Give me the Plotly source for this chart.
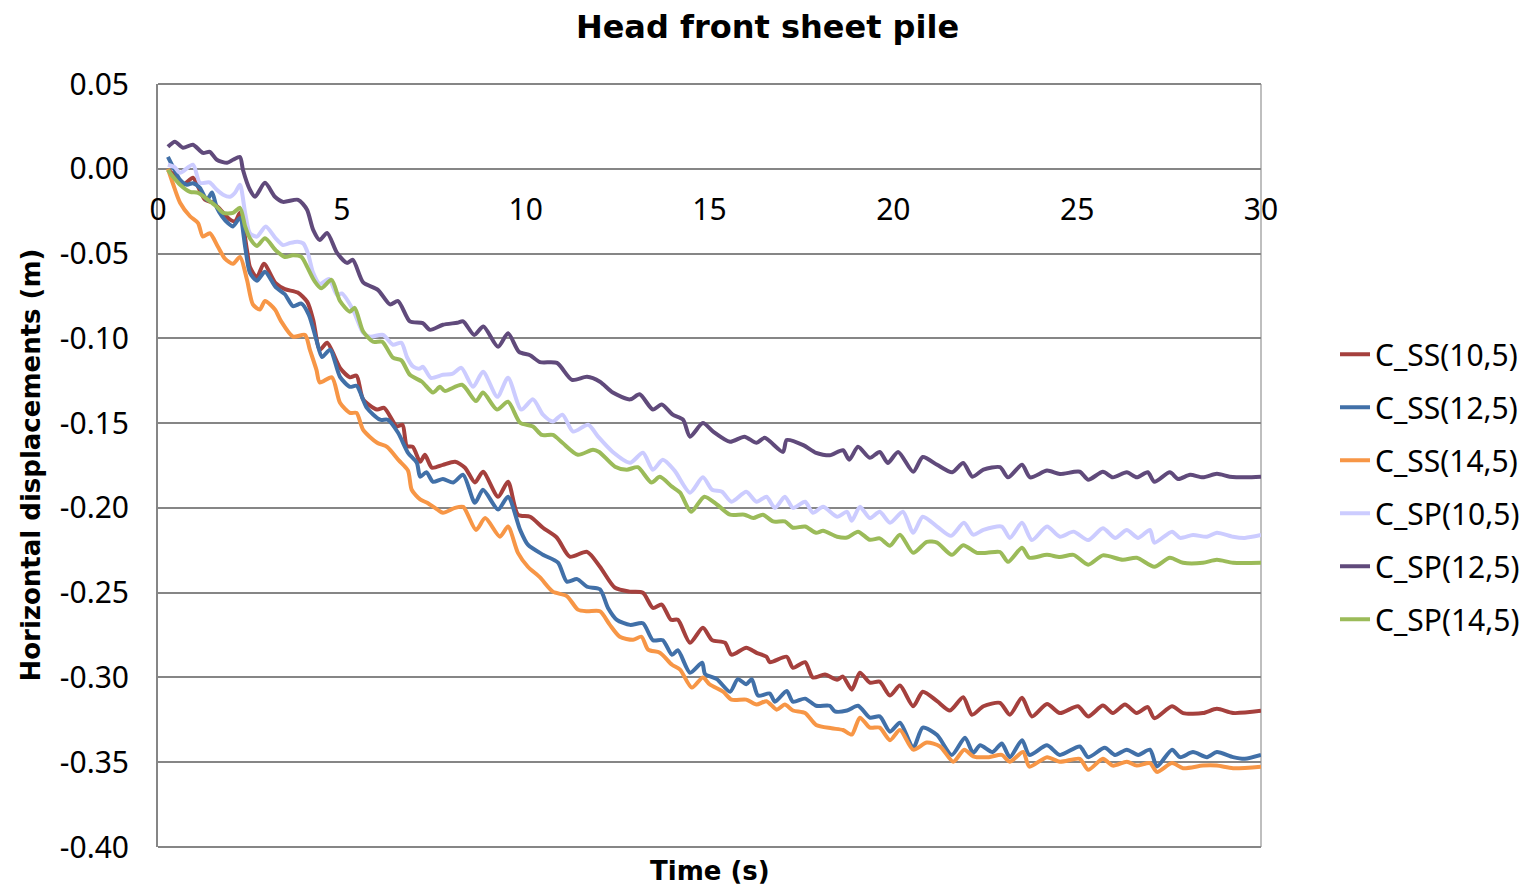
import plotly.graph_objects as go

# ---------------- data ----------------
ss10_t = [0.27, 0.52, 0.68, 0.95, 1.09, 1.28, 1.5, 1.69, 1.96, 2.1, 2.23, 2.42, 2.5, 2.69, 2.88, 3.2, 3.45, 3.8, 4.06, 4.22,
          4.4, 4.6, 4.95, 5.22, 5.4, 5.58, 5.96, 6.15, 6.5, 6.65, 6.77, 6.93, 7.13, 7.26, 7.45, 7.75, 8.08, 8.35, 8.62, 8.84,
          9.25, 9.52, 9.79, 10.12, 10.47, 10.85, 11.2, 11.67, 12.02, 12.43, 12.84, 13.19, 13.46, 13.7, 13.95, 14.14, 14.47, 14.82, 15.07, 15.42,
          15.6, 16.0, 16.28, 16.55, 16.64, 17.1, 17.27, 17.6, 17.81, 18.14, 18.47, 18.63, 18.87, 19.09, 19.36, 19.63, 19.91, 20.18, 20.54, 20.8,
          21.19, 21.54, 21.9, 22.14, 22.45, 22.9, 23.17, 23.5, 23.77, 24.18, 24.53, 25.02, 25.3, 25.7, 25.97, 26.3, 26.62, 26.92, 27.1, 27.58,
          27.88, 28.42, 28.8, 29.24, 30.0]
ss10_v = [-0.0006, -0.0053, -0.0094, -0.0053, -0.0106, -0.0183, -0.020, -0.024, -0.030, -0.031, -0.026, -0.048, -0.058, -0.064, -0.056, -0.0675, -0.071, -0.073, -0.0785, -0.089,
          -0.1067, -0.1026, -0.1174, -0.123, -0.122, -0.136, -0.142, -0.141, -0.152, -0.151, -0.1636, -0.164, -0.1728, -0.1687, -0.1763, -0.1746, -0.1728, -0.1763, -0.185, -0.1787,
          -0.1934, -0.1846, -0.204, -0.2052, -0.2117, -0.2176, -0.2288, -0.2259, -0.2347, -0.2471, -0.2494, -0.250, -0.259, -0.257, -0.266, -0.266, -0.2795, -0.2707, -0.278, -0.2795,
          -0.2866, -0.2825, -0.2855, -0.2878, -0.291, -0.2878, -0.2943, -0.291, -0.300, -0.2983, -0.3013, -0.2995, -0.3072, -0.2972, -0.303, -0.3025, -0.3107, -0.3048, -0.317, -0.3084,
          -0.314, -0.3195, -0.3117, -0.322, -0.317, -0.315, -0.322, -0.312, -0.323, -0.3156, -0.321, -0.317, -0.323, -0.3166, -0.321, -0.316, -0.321, -0.3175, -0.324, -0.317,
          -0.321, -0.321, -0.3185, -0.321, -0.3197]

ss12_t = [0.27, 0.41, 0.6, 0.79, 0.95, 1.14, 1.33, 1.47, 1.6, 1.74, 1.9, 2.04, 2.23, 2.37, 2.5, 2.69, 2.91, 3.2, 3.45, 3.67,
          3.9, 4.1, 4.31, 4.46, 4.68, 4.95, 5.22, 5.4, 5.68, 6.04, 6.25, 6.53, 6.8, 7.04, 7.13, 7.3, 7.48, 7.75, 8.03, 8.3,
          8.62, 8.84, 9.25, 9.52, 9.85, 10.06, 10.47, 10.88, 11.12, 11.4, 11.67, 12.02, 12.24, 12.48, 12.84, 13.19, 13.46, 13.73, 13.98, 14.14,
          14.47, 14.8, 14.88, 15.2, 15.56, 15.77, 16.0, 16.15, 16.32, 16.64, 16.78, 17.1, 17.27, 17.6, 17.9, 18.27, 18.41, 18.74, 19.04, 19.36,
          19.63, 19.91, 20.18, 20.54, 20.8, 21.19, 21.59, 21.95, 22.17, 22.36, 22.7, 22.95, 23.17, 23.5, 23.7, 24.18, 24.53, 25.07, 25.3, 25.75,
          26.03, 26.35, 26.66, 26.98, 27.17, 27.58, 27.8, 28.15, 28.53, 28.8, 29.24, 29.56, 30.0]
ss12_v = [0.007, 0.001, -0.0065, -0.0094, -0.0085, -0.0112, -0.0183, -0.014, -0.023, -0.028, -0.032, -0.034, -0.029, -0.046, -0.0614, -0.066, -0.0607, -0.0698, -0.074, -0.081,
          -0.0795, -0.086, -0.101, -0.111, -0.1067, -0.1227, -0.1286, -0.128, -0.141, -0.148, -0.148, -0.1557, -0.1675, -0.1734, -0.1816, -0.179, -0.1846, -0.183, -0.185, -0.1805,
          -0.197, -0.1893, -0.201, -0.1934, -0.213, -0.2217, -0.2276, -0.2323, -0.2435, -0.242, -0.2465, -0.248, -0.259, -0.266, -0.269, -0.268, -0.278, -0.278, -0.2866, -0.284,
          -0.2972, -0.2913, -0.298, -0.301, -0.3084, -0.301, -0.304, -0.301, -0.3107, -0.3095, -0.3143, -0.308, -0.3143, -0.3125, -0.3167, -0.3167, -0.320, -0.3195, -0.3167, -0.3237,
          -0.323, -0.332, -0.3267, -0.3415, -0.3296, -0.334, -0.3457, -0.3355, -0.3445, -0.340, -0.344, -0.339, -0.347, -0.337, -0.3457, -0.340, -0.3457, -0.3407, -0.347, -0.3415,
          -0.3457, -0.3426, -0.3457, -0.3426, -0.3525, -0.3426, -0.347, -0.344, -0.347, -0.344, -0.347, -0.348, -0.3457]

ss14_t = [0.27, 0.41, 0.6, 0.87, 1.09, 1.22, 1.41, 1.63, 1.82, 2.04, 2.23, 2.42, 2.58, 2.77, 2.91, 3.18, 3.35, 3.67, 4.0, 4.13,
          4.31, 4.4, 4.73, 4.95, 5.22, 5.4, 5.58, 5.96, 6.23, 6.55, 6.8, 6.9, 7.13, 7.32, 7.6, 7.75, 8.08, 8.3, 8.65, 8.9,
          9.3, 9.52, 9.79, 10.06, 10.39, 10.74, 11.12, 11.42, 11.67, 12.02, 12.29, 12.56, 12.92, 13.15, 13.33, 13.65, 13.98, 14.2, 14.52, 14.82,
          15.0, 15.37, 15.6, 16.0, 16.28, 16.55, 16.83, 17.05, 17.27, 17.6, 17.9, 18.32, 18.63, 18.87, 19.09, 19.36, 19.63, 19.91, 20.18, 20.54,
          20.91, 21.27, 21.63, 21.93, 22.17, 22.6, 22.95, 23.17, 23.53, 23.7, 24.18, 24.53, 25.07, 25.3, 25.7, 25.97, 26.35, 26.62, 26.98, 27.17,
          27.58, 27.88, 28.42, 28.8, 29.24, 30.0]
ss14_v = [0.0, -0.009, -0.020, -0.028, -0.032, -0.040, -0.038, -0.046, -0.053, -0.056, -0.052, -0.0655, -0.080, -0.083, -0.078, -0.083, -0.090, -0.099, -0.098, -0.1067,
          -0.1186, -0.126, -0.123, -0.138, -0.144, -0.144, -0.154, -0.1616, -0.164, -0.172, -0.178, -0.1893, -0.195, -0.197, -0.201, -0.2029, -0.200, -0.1994, -0.213, -0.206,
          -0.217, -0.211, -0.2265, -0.2347, -0.241, -0.2494, -0.252, -0.260, -0.261, -0.261, -0.269, -0.276, -0.2778, -0.276, -0.2836, -0.2854, -0.2925, -0.2954, -0.306, -0.300,
          -0.304, -0.3084, -0.3131, -0.3131, -0.316, -0.314, -0.319, -0.316, -0.3195, -0.321, -0.328, -0.330, -0.331, -0.3337, -0.3237, -0.3296, -0.3296, -0.337, -0.331, -0.3426,
          -0.3384, -0.3407, -0.3497, -0.3426, -0.3465, -0.347, -0.3457, -0.3497, -0.344, -0.3526, -0.347, -0.3497, -0.348, -0.3545, -0.348, -0.352, -0.3497, -0.352, -0.3505, -0.3557,
          -0.3505, -0.3535, -0.352, -0.352, -0.3535, -0.3526]

sp10_t = [0.27, 0.45, 0.6, 0.95, 1.14, 1.4, 1.6, 1.77, 1.96, 2.1, 2.23, 2.37, 2.5, 2.69, 2.93, 3.2, 3.4, 3.6, 3.8, 3.95,
          4.08, 4.22, 4.4, 4.65, 4.87, 5.0, 5.3, 5.58, 5.77, 6.12, 6.39, 6.62, 6.77, 6.93, 7.1, 7.21, 7.42, 7.75, 8.0, 8.25,
          8.57, 8.84, 9.23, 9.52, 9.88, 10.2, 10.47, 10.74, 11.0, 11.29, 11.7, 11.97, 12.37, 12.84, 13.19, 13.46, 13.73, 14.05, 14.47, 14.82,
          15.07, 15.34, 15.6, 16.0, 16.28, 16.55, 16.78, 17.05, 17.27, 17.6, 17.81, 18.09, 18.47, 18.74, 18.87, 19.09, 19.36, 19.63, 19.91, 20.26,
          20.54, 20.8, 21.19, 21.57, 21.92, 22.17, 22.45, 22.95, 23.17, 23.5, 23.77, 24.18, 24.53, 24.9, 25.3, 25.7, 26.03, 26.35, 26.66, 26.98,
          27.1, 27.58, 27.8, 28.15, 28.53, 28.8, 29.24, 29.56, 30.0]
sp10_v = [0.0024, 0.001, -0.0024, 0.0024, -0.0083, -0.008, -0.0124, -0.0153, -0.0165, -0.014, -0.0094, -0.026, -0.038, -0.040, -0.034, -0.041, -0.045, -0.0437, -0.043, -0.044,
          -0.050, -0.0614, -0.068, -0.065, -0.0745, -0.0735, -0.083, -0.0967, -0.099, -0.098, -0.1038, -0.1026, -0.111, -0.1165, -0.118, -0.1168, -0.1233, -0.1215, -0.121, -0.1174,
          -0.1286, -0.1197, -0.1345, -0.1233, -0.142, -0.136, -0.145, -0.149, -0.145, -0.155, -0.151, -0.158, -0.167, -0.1734, -0.1675, -0.1775, -0.1716, -0.178, -0.191, -0.182,
          -0.1893, -0.1905, -0.1964, -0.1905, -0.1964, -0.1934, -0.200, -0.1934, -0.200, -0.1964, -0.2029, -0.1994, -0.2052, -0.2023, -0.2076, -0.1994, -0.206, -0.2023, -0.2088, -0.2023,
          -0.2147, -0.2052, -0.211, -0.2165, -0.2088, -0.2158, -0.213, -0.211, -0.2177, -0.2088, -0.219, -0.211, -0.217, -0.214, -0.219, -0.212, -0.2177, -0.213, -0.2177, -0.213,
          -0.2205, -0.214, -0.2177, -0.216, -0.217, -0.2146, -0.217, -0.2177, -0.216]

sp12_t = [0.27, 0.46, 0.68, 0.95, 1.22, 1.41, 1.6, 1.88, 2.04, 2.23, 2.31, 2.5, 2.64, 2.91, 3.18, 3.4, 3.81, 4.05, 4.22, 4.4,
          4.6, 4.87, 5.14, 5.3, 5.58, 5.98, 6.31, 6.53, 6.85, 7.2, 7.4, 7.75, 8.14, 8.3, 8.6, 8.85, 9.25, 9.52, 9.82, 10.12,
          10.39, 10.85, 11.26, 11.67, 12.02, 12.37, 12.84, 13.1, 13.46, 13.7, 14.0, 14.28, 14.47, 14.82, 15.1, 15.56, 15.95, 16.28, 16.5, 17.0,
          17.1, 17.55, 17.9, 18.27, 18.63, 18.8, 19.04, 19.36, 19.63, 19.85, 20.13, 20.54, 20.8, 21.19, 21.6, 21.9, 22.15, 22.45, 22.9, 23.12,
          23.5, 23.72, 24.18, 24.53, 25.07, 25.3, 25.7, 25.97, 26.35, 26.62, 26.92, 27.1, 27.52, 27.75, 28.07, 28.42, 28.8, 29.15, 29.6, 30.0]
sp12_v = [0.013, 0.016, 0.0124, 0.0142, 0.0094, 0.010, 0.0053, 0.0035, 0.0053, 0.007, -0.0006, -0.0124, -0.0165, -0.0083, -0.0165, -0.0195, -0.0183, -0.024, -0.036, -0.042,
          -0.0378, -0.0496, -0.0555, -0.0537, -0.067, -0.0714, -0.080, -0.078, -0.090, -0.091, -0.095, -0.092, -0.0908, -0.090, -0.098, -0.093, -0.105, -0.097, -0.108, -0.110,
          -0.114, -0.1145, -0.1245, -0.1227, -0.1256, -0.132, -0.136, -0.133, -0.142, -0.139, -0.145, -0.148, -0.158, -0.150, -0.155, -0.161, -0.158, -0.1616, -0.1587, -0.167,
          -0.160, -0.163, -0.1676, -0.169, -0.166, -0.1716, -0.164, -0.1705, -0.167, -0.1735, -0.167, -0.1787, -0.170, -0.1746, -0.179, -0.1735, -0.1816, -0.1775, -0.176, -0.182,
          -0.1746, -0.182, -0.178, -0.180, -0.1787, -0.1834, -0.1787, -0.182, -0.179, -0.182, -0.179, -0.1846, -0.179, -0.183, -0.1805, -0.182, -0.1799, -0.1816, -0.182, -0.1816]

sp14_t = [0.27, 0.41, 0.6, 0.87, 1.09, 1.36, 1.6, 1.77, 2.04, 2.23, 2.37, 2.5, 2.69, 2.91, 3.2, 3.45, 3.67, 3.9, 4.06, 4.25,
          4.44, 4.72, 4.95, 5.22, 5.35, 5.58, 5.85, 6.1, 6.39, 6.62, 6.85, 7.18, 7.48, 7.67, 7.8, 8.27, 8.65, 8.84, 9.22, 9.52,
          9.85, 10.2, 10.44, 10.74, 11.0, 11.42, 11.83, 12.0, 12.43, 12.75, 13.05, 13.42, 13.65, 13.98, 14.2, 14.5, 14.86, 15.2, 15.56, 15.95,
          16.19, 16.45, 16.73, 17.05, 17.27, 17.6, 17.9, 18.09, 18.47, 18.74, 19.04, 19.36, 19.63, 19.91, 20.18, 20.54, 20.91, 21.19, 21.59, 21.9,
          22.27, 22.55, 22.9, 23.12, 23.5, 23.7, 24.18, 24.53, 24.9, 25.3, 25.7, 26.24, 26.62, 27.1, 27.52, 27.88, 28.42, 28.8, 29.24, 30.0]
sp14_v = [-0.0006, -0.0047, -0.0094, -0.0136, -0.0142, -0.0183, -0.0224, -0.026, -0.026, -0.023, -0.034, -0.041, -0.0455, -0.041, -0.048, -0.052, -0.051, -0.052, -0.058, -0.066,
          -0.0705, -0.0655, -0.078, -0.0843, -0.082, -0.096, -0.102, -0.102, -0.1114, -0.113, -0.1215, -0.1256, -0.132, -0.1286, -0.131, -0.1274, -0.137, -0.132, -0.142, -0.1374,
          -0.1498, -0.152, -0.157, -0.157, -0.1616, -0.1687, -0.1657, -0.167, -0.1757, -0.1775, -0.176, -0.185, -0.1817, -0.1875, -0.191, -0.2023, -0.1934, -0.198, -0.204, -0.204,
          -0.206, -0.204, -0.208, -0.208, -0.2117, -0.211, -0.2147, -0.2135, -0.217, -0.2175, -0.214, -0.2188, -0.218, -0.2223, -0.2158, -0.2265, -0.220, -0.2205, -0.2277, -0.222,
          -0.2265, -0.2265, -0.226, -0.2318, -0.2235, -0.2294, -0.2277, -0.229, -0.2277, -0.2335, -0.228, -0.2306, -0.2294, -0.2347, -0.2294, -0.2324, -0.2324, -0.2306, -0.2324, -0.2324]

series_names = ["C_SS(10,5)", "C_SS(12,5)", "C_SS(14,5)", "C_SP(10,5)", "C_SP(12,5)", "C_SP(14,5)"]
series_t = [ss10_t, ss12_t, ss14_t, sp10_t, sp12_t, sp14_t]
series_v = [ss10_v, ss12_v, ss14_v, sp10_v, sp12_v, sp14_v]
series_colors = ["#A5403D", "#4170A8", "#F79646", "#CCCCFF", "#604A7B", "#9BBB59"]

y_ticks = [0.05, 0.0, -0.05, -0.10, -0.15, -0.20, -0.25, -0.30, -0.35, -0.40]
x_ticks = [0, 5, 10, 15, 20, 25, 30]

# ---------------- figure ----------------
FONT = "Noto Sans, DejaVu Sans, sans-serif"
BOLD = "DejaVu Sans, Noto Sans, sans-serif"
GRID = "#868686"
fig = go.Figure()
for i, (name, t, v, c) in enumerate(zip(series_names, series_t, series_v, series_colors)):
    fig.add_trace(go.Scatter(x=t, y=v, mode="lines", name=name,
                             line=dict(color=c, width=4, shape="spline", smoothing=0.7),
                             legendgroup=f"g{i}"))

y_lo, y_hi = -0.40, 0.05
fig.update_layout(
    width=1535, height=889,
    margin=dict(l=158, r=274, t=84, b=42, autoexpand=False),
    paper_bgcolor="white", plot_bgcolor="white",
    font=dict(family=FONT, color="black", size=30),
    title=dict(text="<b>Head front sheet pile</b>", x=0.5, xanchor="center",
               y=1 - 27 / 889, yanchor="middle", font=dict(size=32, family=BOLD)),
    showlegend=True,
    legend=dict(x=(1335 - 158) / 1103, xanchor="left", y=0.472, yanchor="middle",
                font=dict(size=30, family=FONT), tracegroupgap=11,
                bgcolor="rgba(0,0,0,0)", itemwidth=30),
    xaxis=dict(range=[0, 30], tickvals=x_ticks, ticktext=[str(v) for v in x_ticks],
               showgrid=False, zeroline=False, showline=False,
               anchor="free", position=(0 - y_lo) / (y_hi - y_lo),
               ticks="outside", ticklen=14, tickcolor="rgba(0,0,0,0)",
               tickfont=dict(size=30, family=FONT)),
    yaxis=dict(range=[y_lo, y_hi], tickvals=y_ticks, ticktext=[f"{v:.2f}" for v in y_ticks],
               showgrid=True, gridcolor=GRID, gridwidth=2,
               zeroline=False, showline=True, linecolor=GRID, linewidth=2,
               ticks="outside", ticklen=21, tickcolor="rgba(0,0,0,0)",
               tickfont=dict(size=30, family=FONT)),
    annotations=[
        dict(text="<b>Time (s)</b>", xref="paper", yref="paper", x=0.5, y=-24 / 763,
             xanchor="center", yanchor="middle", showarrow=False,
             font=dict(size=26, family=BOLD)),
        dict(text="<b>Horizontal displacements (m)</b>", xref="paper", yref="paper",
             x=(30 - 158) / 1103, y=0.5, xanchor="center", yanchor="middle",
             textangle=-90, showarrow=False, font=dict(size=26, family=BOLD)),
    ],
    shapes=[
        dict(type="line", xref="paper", yref="paper", x0=1, x1=1, y0=0, y1=1,
             line=dict(color="#BFBFBF", width=2), layer="below"),
        dict(type="line", xref="paper", yref="paper", x0=0, x1=1, y0=1, y1=1,
             line=dict(color=GRID, width=2), layer="below"),
        dict(type="line", xref="paper", yref="paper", x0=0, x1=1, y0=0, y1=0,
             line=dict(color=GRID, width=2), layer="below"),
    ],
)

fig.write_html("out.html")
